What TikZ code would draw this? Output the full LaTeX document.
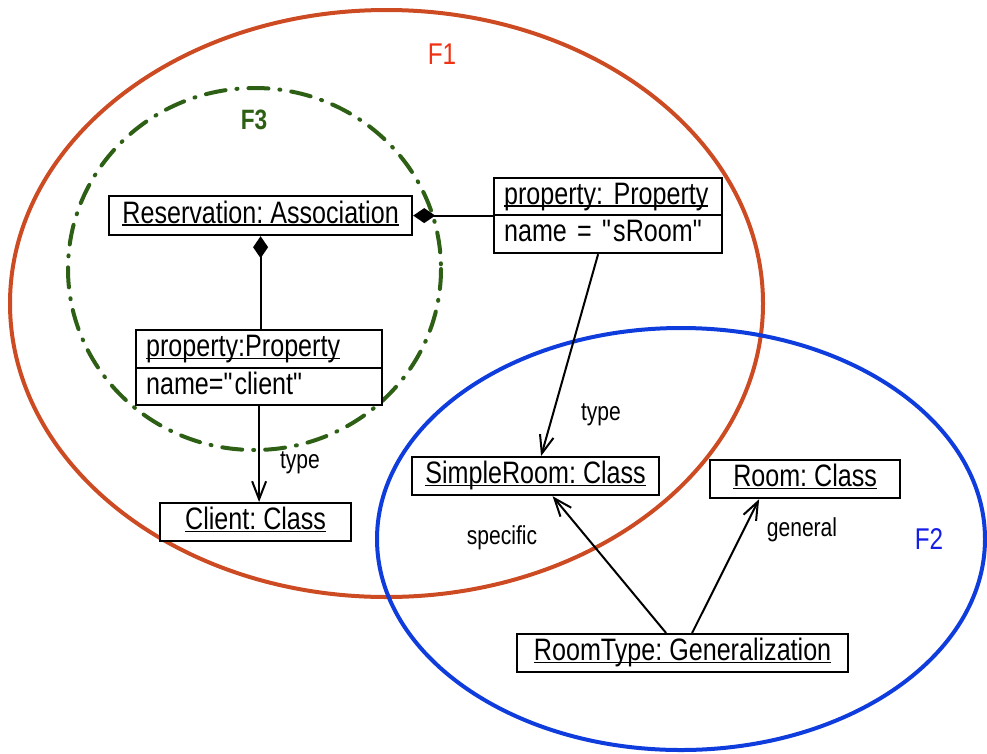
\documentclass[tikz,border=0pt]{standalone}
\usepackage{fontspec}
\setmainfont[FakeStretch=0.81]{Liberation Sans}
\usetikzlibrary{arrows.meta}

% underline drawn close to the baseline, crossing the descenders
\newsavebox{\ulinedbox}
\newcommand{\ulined}[1]{%
  \sbox{\ulinedbox}{#1}%
  \leavevmode\rlap{\rule[-2.8pt]{\wd\ulinedbox}{1.5pt}}\usebox{\ulinedbox}}

\definecolor{fonered}{RGB}{205,75,35}
\definecolor{fonelabel}{RGB}{240,50,20}
\definecolor{ftwoblue}{RGB}{15,60,220}
\definecolor{ftwolabel}{RGB}{20,30,230}
\definecolor{fthreegreen}{RGB}{45,95,20}

\begin{document}
\frenchspacing
\begin{tikzpicture}[x=1pt,y=-1pt,
  boxfont/.style={font=\fontsize{31}{34}\selectfont},
  objbox/.style={draw, line width=2.2pt, fill=white, inner sep=0pt, boxfont,
    text height=22pt, text depth=7pt, anchor=north west},
  attrbox/.style={objbox, inner xsep=10pt, align=left},
  lbl/.style={font=\fontsize{26}{28}\selectfont, inner sep=0pt},
  link/.style={line width=2pt},
  openarrow/.style={link, -{Straight Barb[length=18pt,width=14pt]}},
  composite/.style={link, {Diamond[length=22pt,width=15pt]}-},
  region/.style={line width=4pt}
]
\useasboundingbox (0,0) rectangle (987,753);

% feature regions
\draw[region, fonered] (386.5,303.5) ellipse [x radius=376.5, y radius=293.5];
\draw[region, ftwoblue] (681,539) ellipse [x radius=304, y radius=211];
\draw[region, fthreegreen, line cap=round,
      dash pattern=on 20pt off 11pt on 1pt off 11pt]
  (254.5,269) ellipse [x radius=186.5, y radius=181];

\node[text=fonelabel, font=\fontsize{30}{32}\selectfont] (fone) at (442,54) {F1};
\node[text=ftwolabel, font=\fontsize{30}{32}\selectfont] (ftwo) at (929,539) {F2};
\node[text=fthreegreen, font=\fontsize{28}{30}\selectfont\bfseries] (fthree) at (254,120) {F3};

% object boxes
\node[objbox, minimum width=303pt, minimum height=39pt] (res) at (108,195)
  {\ulined{Reservation: Association}};
\node[attrbox, text width=208pt, minimum height=37pt] (propR) at (493,177)
  {\ulined{property: Property}};
\node[attrbox, text width=208pt, minimum height=38pt] (propRv) at (493,214)
  {name = \textquotedbl sRoom\textquotedbl};
\node[attrbox, text width=226pt, minimum height=38pt] (propL) at (135,329)
  {\ulined{property:Property}};
\node[attrbox, text width=226pt, minimum height=37pt] (propLv) at (135,367)
  {name=\textquotedbl client\textquotedbl};
\node[objbox, minimum width=191pt, minimum height=38pt] (client) at (159,502)
  {\ulined{Client: Class}};
\node[objbox, minimum width=247pt, minimum height=38pt] (simple) at (411,456)
  {\ulined{SimpleRoom: Class}};
\node[objbox, minimum width=190pt, minimum height=38pt] (room) at (709,459)
  {\ulined{Room: Class}};
\node[objbox, minimum width=331pt, minimum height=38pt] (gen) at (516,633)
  {\ulined{RoomType: Generalization}};

% composition links
\draw[composite] (res.east) -- (res.east -| propR.west);
\draw[composite] (res.south) -- (res.south |- propL.north);

% typed links
\draw[openarrow] (propLv.south) -- (propLv.south |- client.north);
\draw[openarrow] ([xshift=-10pt]propRv.south) -- ([xshift=5.5pt]simple.north);
\draw[openarrow] ([xshift=-16.5pt]gen.north) -- ([xshift=17pt]simple.south);
\draw[openarrow] ([xshift=9.5pt]gen.north) -- ([xshift=-46pt]room.south);

% link labels
\node[lbl] (tleft) at (300,463) {type};
\node[lbl] (tright) at (601,415) {type};
\node[lbl] (spec) at (502,538) {specific};
\node[lbl] (genl) at (802,530) {general};
\end{tikzpicture}
\end{document}
